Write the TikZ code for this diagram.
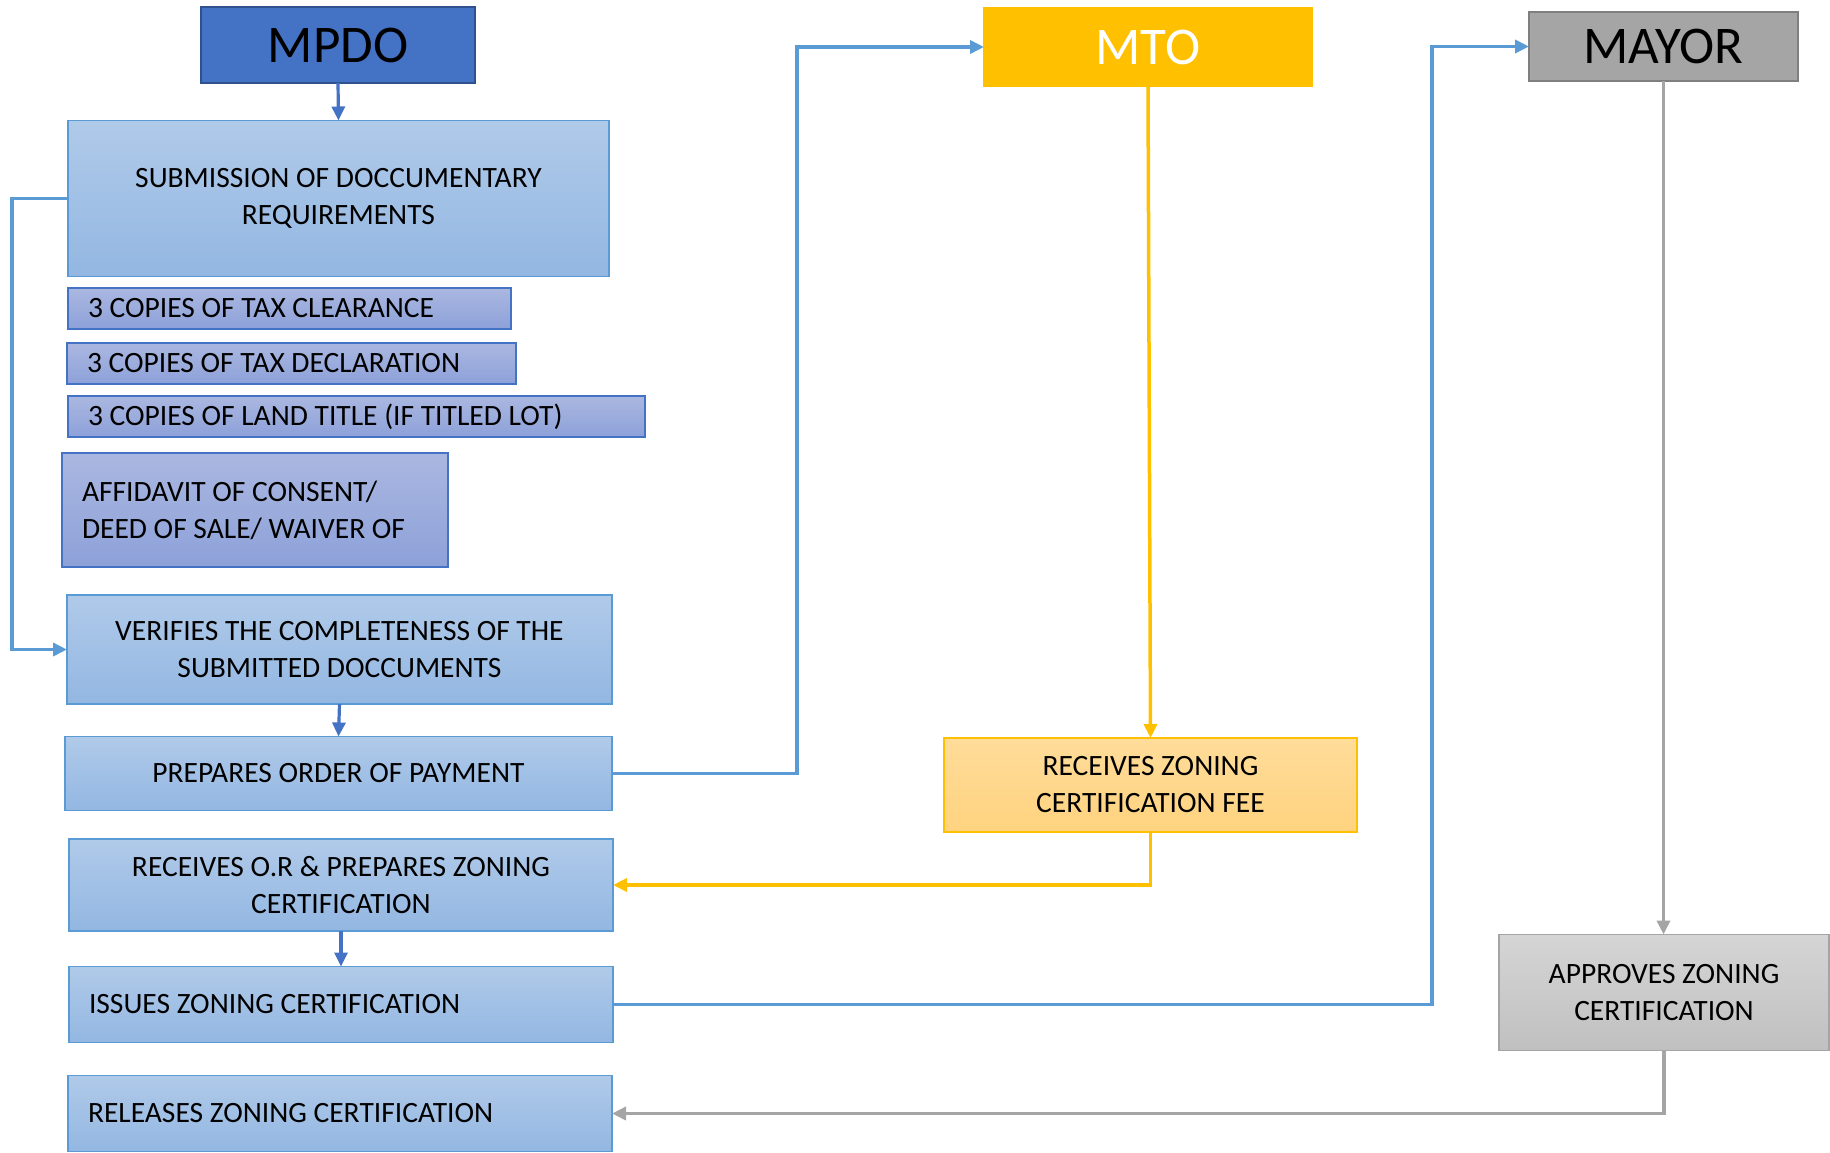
\documentclass[tikz,border=0pt]{standalone}
\usepackage{fontspec}
\setmainfont{Carlito}
\usetikzlibrary{arrows.meta}
\newcommand{\normsp}{\spaceskip=0pt\xspaceskip=0pt\relax}
\definecolor{bluebd}{HTML}{5B9BD5}
\definecolor{bluetop}{HTML}{B0CAE9}
\definecolor{bluebot}{HTML}{93B7E2}
\definecolor{purpbd}{HTML}{4472C4}
\definecolor{purptop}{HTML}{AAB7E0}
\definecolor{purpbot}{HTML}{8DA1D9}
\definecolor{mpdofill}{HTML}{4472C4}
\definecolor{mpdobd}{HTML}{2F528F}
\definecolor{mtofill}{HTML}{FFC000}
\definecolor{mayorfill}{HTML}{A5A5A5}
\definecolor{mayorbd}{HTML}{7F7F7F}
\definecolor{feetop}{HTML}{FFDC9A}
\definecolor{feebot}{HTML}{FFD37F}
\definecolor{apptop}{HTML}{D5D5D5}
\definecolor{appbot}{HTML}{C0C0C0}
\definecolor{linkblue}{HTML}{5B9BD5}
\definecolor{linkdark}{HTML}{4472C4}
\definecolor{linkyel}{HTML}{FFC000}
\definecolor{linkgray}{HTML}{A5A5A5}
\begin{document}
\begin{tikzpicture}[x=1pt,y=-1pt,
  every node/.style={inner sep=0pt, outer sep=0pt},
  body/.style={font=\fontsize{29.5}{37}\selectfont, line width=1.6pt, align=center},
  head/.style={font=\fontsize{53}{60}\selectfont, line width=2pt},
  bluebox/.style={body, draw=bluebd, top color=bluetop, bottom color=bluebot},
  purpbox/.style={body, draw=purpbd, top color=purptop, bottom color=purpbot},
  leftbox/.style={align=left, inner xsep=20pt},
  feebox/.style={body, draw=mtofill, top color=feetop, bottom color=feebot},
  appbox/.style={body, draw=mayorfill, top color=apptop, bottom color=appbot},
  tip/.style={-{Triangle[length=14pt,width=13pt]}},
  ldark/.style={tip, draw=linkdark, line width=3.2pt},
  lblue/.style={tip, draw=linkblue, line width=3.8pt},
  lyel/.style={tip, draw=linkyel, line width=3.5pt},
  lgray/.style={tip, draw=linkgray, line width=3.5pt}
]
\useasboundingbox (0,0) rectangle (1830,1152);

\node[head, draw=mpdobd, fill=mpdofill, minimum width=274pt, minimum height=76pt] (mpdo) at (338,45) {MPDO};
\node[head, draw=mtofill, fill=mtofill, text=white, minimum width=328pt, minimum height=78pt] (mto) at (1148,47) {MTO};
\node[head, draw=mayorbd, fill=mayorfill, minimum width=269pt, minimum height=69pt] (mayor) at (1663.5,46.5) {MAYOR};

\node[bluebox, minimum width=541pt, minimum height=156pt] (sub) at (338.5,198.5) {SUBMISSION OF DOCCUMENTARY\\REQUIREMENTS};
\node[purpbox, leftbox, minimum width=443pt, minimum height=41pt, text width=403pt] (tc) at (289.5,308.5) {\normsp 3 COPIES OF TAX CLEARANCE};
\node[purpbox, leftbox, minimum width=449pt, minimum height=41pt, text width=409pt] (td) at (291.5,363.5) {\normsp 3 COPIES OF TAX DECLARATION};
\node[purpbox, leftbox, minimum width=577pt, minimum height=41pt, text width=537pt] (lt) at (356.5,416.5) {\normsp 3 COPIES OF LAND TITLE (IF TITLED LOT)};
\node[purpbox, leftbox, minimum width=386pt, minimum height=114pt, text width=346pt] (aff) at (255,510) {\normsp AFFIDAVIT OF CONSENT/\\\normsp DEED OF SALE/ WAIVER OF};
\node[bluebox, minimum width=545pt, minimum height=109pt] (ver) at (339.5,649.5) {VERIFIES THE COMPLETENESS OF THE\\SUBMITTED DOCCUMENTS};
\node[bluebox, minimum width=547pt, minimum height=74pt] (pop) at (338.5,773.5) {PREPARES ORDER OF PAYMENT};
\node[bluebox, minimum width=544pt, minimum height=92pt] (ror) at (341,885) {RECEIVES O.R \& PREPARES ZONING\\CERTIFICATION};
\node[bluebox, leftbox, minimum width=544pt, minimum height=76pt, text width=504pt] (iss) at (341,1004.5) {\normsp ISSUES ZONING CERTIFICATION};
\node[bluebox, leftbox, minimum width=544pt, minimum height=76pt, text width=504pt] (rel) at (340,1113.5) {\normsp RELEASES ZONING CERTIFICATION};

\node[feebox, minimum width=413pt, minimum height=94pt] (fee) at (1150.5,785) {RECEIVES ZONING\\CERTIFICATION FEE};
\node[appbox, minimum width=330pt, minimum height=116pt] (app) at (1664,992.5) {APPROVES ZONING\\CERTIFICATION};

\coordinate (cl) at (12,0);
\coordinate (c1) at (797,0);
\coordinate (c2) at (1432,0);

\draw[ldark] (mpdo.south) -- (sub.north);
\draw[lblue] (sub.west) -- (cl |- sub.west) -- (cl |- ver.west) -- (ver.west);
\draw[ldark] (ver.south) -- (pop.north);
\draw[lblue] (pop.east) -- (c1 |- pop.east) -- (c1 |- mto.west) -- (mto.west);
\draw[lyel] (mto.south) -- (fee.north);
\draw[lyel] (fee.south) |- (ror.east);
\draw[ldark] (ror.south) -- (iss.north);
\draw[lblue] (iss.east) -- (c2 |- iss.east) -- (c2 |- mayor.west) -- (mayor.west);
\draw[lgray] (mayor.south) -- (mayor.south |- app.north);
\draw[lgray] (app.south) |- (rel.east);
\end{tikzpicture}
\end{document}
